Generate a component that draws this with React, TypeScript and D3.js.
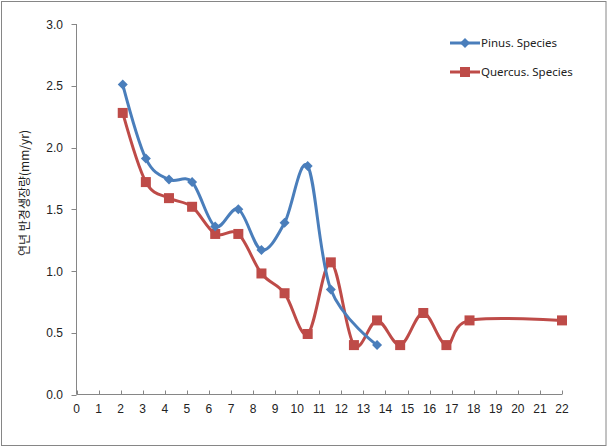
import React from "react";
import * as d3 from "d3";

const pinusX = [2, 3, 4, 5, 6, 7, 8, 9, 10, 11, 13];
const pinusY = [2.51, 1.91, 1.74, 1.72, 1.36, 1.5, 1.17, 1.39, 1.85, 0.85, 0.4];
const quercusX = [2, 3, 4, 5, 6, 7, 8, 9, 10, 11, 12, 13, 14, 15, 16, 17, 21];
const quercusY = [2.28, 1.72, 1.59, 1.52, 1.3, 1.3, 0.98, 0.82, 0.49, 1.07, 0.4, 0.6, 0.4, 0.66, 0.4, 0.6, 0.6];
const xTicks = d3.range(0, 23);
const yTicks = [0, 0.5, 1, 1.5, 2, 2.5, 3];
const seriesNames = ["Pinus. Species", "Quercus. Species"];
const yTitle = "연년 반경생장량(mm/yr)";

const W = 608, H = 448;
const BLUE = "#4A7EBB";
const RED = "#BE4B48";
const AXIS = "#868686";

export default function App() {
  // axis labels scale
  const x = d3.scaleLinear().domain([0, 22]).range([76.5, 562]);
  // data plotted on a secondary span (0..21 across the same width), as in the reference
  const xd = d3.scaleLinear().domain([0, 21]).range([76.5, 562]);
  const y = d3.scaleLinear().domain([0, 3]).range([394.5, 24]);
  const line = d3
    .line<[number, number]>()
    .x((d) => xd(d[0]))
    .y((d) => y(d[1]))
    .curve(d3.curveCardinal.tension(0));
  const pData: [number, number][] = pinusX.map((v, i) => [v, pinusY[i]]);
  const qData: [number, number][] = quercusX.map((v, i) => [v, quercusY[i]]);
  const diamond = (cx: number, cy: number, r: number) =>
    `M${cx},${cy - r}L${cx + r},${cy}L${cx},${cy + r}L${cx - r},${cy}Z`;
  const font = "'Liberation Sans', Arial, sans-serif";
  return (
    <svg width={W} height={H} style={{ position: "absolute", left: 0, top: 0 }}>
      <rect x={0} y={0} width={W} height={H} fill="#fff" />
      <rect x={1.5} y={1.5} width={604.5} height={444} fill="none" stroke={AXIS} strokeWidth={1} />
      {/* axes */}
      <line x1={x(0)} x2={x(0)} y1={y(3)} y2={y(0)} stroke={AXIS} />
      <line x1={x(0)} x2={x(22)} y1={y(0)} y2={y(0)} stroke={AXIS} />
      {yTicks.map((t) => (
        <g key={"y" + t}>
          <line x1={x(0) - 5} x2={x(0)} y1={Math.round(y(t)) + 0.5} y2={Math.round(y(t)) + 0.5} stroke={AXIS} />
          <text x={63} y={y(t) + 4.5} textAnchor="end" fontFamily={font} fontSize={12} fill="#222">
            {t.toFixed(1)}
          </text>
        </g>
      ))}
      {xTicks.map((t) => (
        <g key={"x" + t}>
          <line x1={Math.round(x(t)) + 0.5} x2={Math.round(x(t)) + 0.5} y1={y(0) - 4} y2={y(0)} stroke={AXIS} />
          <text x={x(t)} y={413} textAnchor="middle" fontFamily={font} fontSize={12} fill="#222">
            {t}
          </text>
        </g>
      ))}
      <text
        transform={`translate(29,${193}) rotate(-90)`}
        textAnchor="middle"
        fontFamily="'Noto Sans CJK KR', sans-serif"
        fontSize={12}
        fill="#222"
      >
        {yTitle}
      </text>
      {/* series */}
      <path d={line(qData) || ""} fill="none" stroke={RED} strokeWidth={3} />
      {qData.map((d, i) => (
        <rect key={"q" + i} x={xd(d[0]) - 5} y={y(d[1]) - 5} width={10} height={10} fill={RED} />
      ))}
      <path d={line(pData) || ""} fill="none" stroke={BLUE} strokeWidth={3} />
      {pData.map((d, i) => (
        <path key={"p" + i} d={diamond(xd(d[0]), y(d[1]), 5)} fill={BLUE} />
      ))}
      {/* legend */}
      <line x1={450} x2={480} y1={43} y2={43} stroke={BLUE} strokeWidth={3} />
      <path d={diamond(465, 43, 5)} fill={BLUE} />
      <text x={481} y={47} fontFamily="'Noto Sans', sans-serif" fontSize={11.5} fill="#222">
        {seriesNames[0]}
      </text>
      <line x1={450} x2={480} y1={72} y2={72} stroke={RED} strokeWidth={3} />
      <rect x={460} y={67} width={10} height={10} fill={RED} />
      <text x={481} y={76} fontFamily="'Noto Sans', sans-serif" fontSize={11.5} fill="#222">
        {seriesNames[1]}
      </text>
    </svg>
  );
}
